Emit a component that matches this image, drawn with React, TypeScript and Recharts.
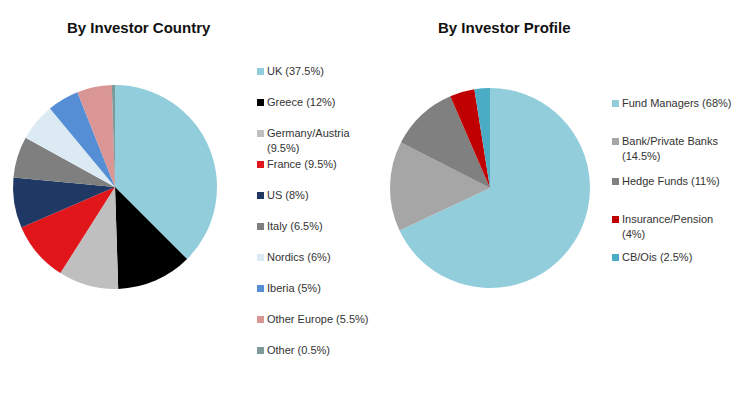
import { PieChart, Pie, Cell } from "recharts";

// By Investor Country
const countryNames = ["UK", "Greece", "Germany/Austria", "France", "US", "Italy", "Nordics", "Iberia", "Other Europe", "Other"];
const countryValues = [37.5, 12, 9.5, 9.5, 8, 6.5, 6, 5, 5.5, 0.5];
const countryLabels = ["UK (37.5%)", "Greece (12%)", "Germany/Austria\n(9.5%)", "France (9.5%)", "US (8%)", "Italy (6.5%)", "Nordics (6%)", "Iberia (5%)", "Other Europe (5.5%)", "Other (0.5%)"];
const countryColors = ["#92CDDC", "#000000", "#BFBFBF", "#E0161B", "#1F3864", "#7F7F7F", "#DCEAF4", "#558ED5", "#D99694", "#7C9A9A"];

// By Investor Profile
const profileNames = ["Fund Managers", "Bank/Private Banks", "Hedge Funds", "Insurance/Pension", "CB/Ois"];
const profileValues = [68, 14.5, 11, 4, 2.5];
const profileLabels = ["Fund Managers (68%)", "Bank/Private Banks\n(14.5%)", "Hedge Funds (11%)", "Insurance/Pension\n(4%)", "CB/Ois (2.5%)"];
const profileColors = ["#92CDDC", "#A6A6A6", "#808080", "#C00000", "#4BACC6"];

const countryData = countryNames.map((name, i) => ({ name, value: countryValues[i] }));
const profileData = profileNames.map((name, i) => ({ name, value: profileValues[i] }));

// legend rows (top y of first line)
const countryLegendY = [64, 95, 126, 157, 188, 219, 250, 281, 312, 343];
const profileLegendY = [96, 134, 174, 212, 250];

const titleStyle = {
  position: "absolute" as const,
  fontFamily: "Liberation Sans, Arial, sans-serif",
  fontWeight: 700,
  fontSize: 15,
  color: "#111",
  top: 19,
};

function Legend({ labels, colors, ys, x }: { labels: string[]; colors: string[]; ys: number[]; x: number }) {
  return (
    <>
      {labels.map((l, i) => (
        <div
          key={i}
          style={{
            position: "absolute",
            left: x,
            top: ys[i],
            fontFamily: "Liberation Sans, Arial, sans-serif",
            fontSize: 11,
            lineHeight: "15px",
            color: "#333",
            whiteSpace: "pre",
          }}
        >
          <span
            style={{
              position: "absolute",
              left: -10,
              top: 4,
              width: 7,
              height: 7,
              background: colors[i],
            }}
          />
          {l}
        </div>
      ))}
    </>
  );
}

export default function App() {
  return (
    <div style={{ position: "absolute", left: 0, top: 0, width: 755, height: 393, background: "#fff" }}>
      <PieChart width={755} height={393} margin={{ top: 0, right: 0, bottom: 0, left: 0 }}>
        <Pie
          data={countryData}
          dataKey="value"
          cx={115}
          cy={187}
          outerRadius={102}
          startAngle={90}
          endAngle={-270}
          stroke="none"
          isAnimationActive={false}
        >
          {countryData.map((_, i) => (
            <Cell key={i} fill={countryColors[i]} />
          ))}
        </Pie>
        <Pie
          data={profileData}
          dataKey="value"
          cx={490}
          cy={188}
          outerRadius={100}
          startAngle={90}
          endAngle={-270}
          stroke="none"
          isAnimationActive={false}
        >
          {profileData.map((_, i) => (
            <Cell key={i} fill={profileColors[i]} />
          ))}
        </Pie>
      </PieChart>
      <div style={{ ...titleStyle, left: 67 }}>By Investor Country</div>
      <div style={{ ...titleStyle, left: 438 }}>By Investor Profile</div>
      <Legend labels={countryLabels} colors={countryColors} ys={countryLegendY} x={267} />
      <Legend labels={profileLabels} colors={profileColors} ys={profileLegendY} x={622} />
    </div>
  );
}
